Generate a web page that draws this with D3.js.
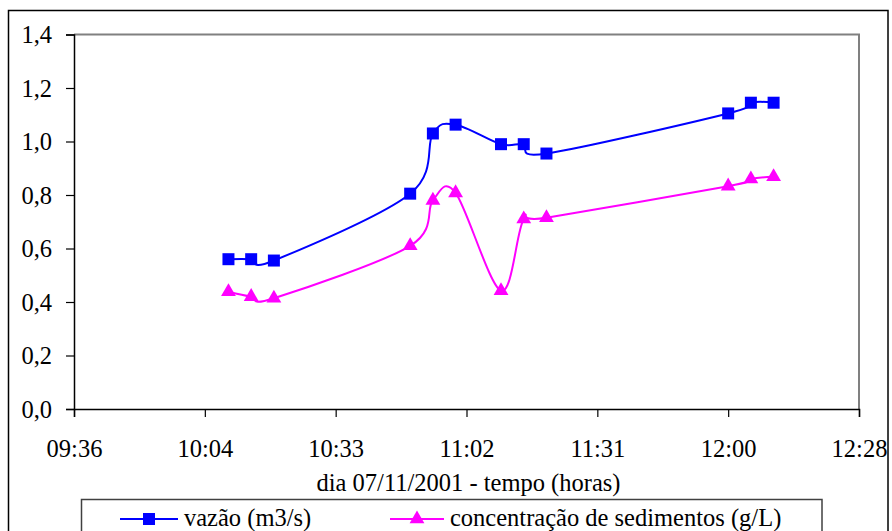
<!DOCTYPE html>
<html>
<head>
<meta charset="utf-8">
<script src="https://cdn.jsdelivr.net/npm/d3@7"></script>
<style>
  html, body { margin: 0; padding: 0; background: #fff; }
  svg { display: block; }
</style>
</head>
<body>
<svg id="chart" width="892" height="531"></svg>
<script>
// Measurement times (hh:mm) on 07/11/2001
const times = ["10:10", "10:15", "10:20", "10:50", "10:55", "11:00",
               "11:10", "11:15", "11:20", "12:00", "12:05", "12:10"];
// Discharge (m3/s)
const vazao = [0.56, 0.56, 0.555, 0.805, 1.03, 1.063, 0.99, 0.99, 0.955, 1.105, 1.145, 1.145];
// Sediment concentration (g/L)
const concentracao = [0.438, 0.42, 0.414, 0.61, 0.78, 0.808, 0.442, 0.71, 0.715, 0.833, 0.86, 0.868];
// Time axis ticks every 0.02 day (28.8 min) starting at 0.40 day
const xTickDayFractions = [0.40, 0.42, 0.44, 0.46, 0.48, 0.50, 0.52];
const xTickLabels = ["09:36", "10:04", "10:33", "11:02", "11:31", "12:00", "12:28"];
const yTicks = [0, 0.2, 0.4, 0.6, 0.8, 1.0, 1.2, 1.4];

const seriesNames = ["vazão (m3/s)", "concentração de sedimentos (g/L)"];

const FONT = '"Liberation Serif", "Times New Roman", serif';
const fontSize = 24.5;

const toMinutes = s => { const [h, m] = s.split(":").map(Number); return h * 60 + m; };
const tickMinutes = xTickDayFractions.map(f => f * 1440);

const svg = d3.select("#chart");
const plotLeft = 74, plotRight = 859, plotTop = 34.5, plotBottom = 409;

const x = d3.scaleLinear().domain([tickMinutes[0], tickMinutes[tickMinutes.length - 1]]).range([plotLeft, plotRight]);
const y = d3.scaleLinear().domain([0, 1.4]).range([plotBottom, plotTop]);

// Outer chart border
svg.append("rect").attr("x", 8.5).attr("y", 10.5).attr("width", 879.5).attr("height", 540)
  .attr("fill", "none").attr("stroke", "#000").attr("stroke-width", 1.5);

// Plot area frame (top and right in gray)
svg.append("path")
  .attr("d", `M${plotLeft},${plotTop}H${plotRight}V${plotBottom}`)
  .attr("fill", "none").attr("stroke", "#808080").attr("stroke-width", 2);

// Y axis
const yAxis = svg.append("g").attr("transform", `translate(${plotLeft},0)`)
  .call(d3.axisLeft(y).tickValues(yTicks).tickSize(8).tickPadding(14)
    .tickFormat(d => d3.format(".1f")(d).replace(".", ",")));
yAxis.select(".domain").attr("stroke", "#000").attr("stroke-width", 1.5);
yAxis.selectAll(".tick line").attr("stroke", "#000").attr("stroke-width", 1.2);
yAxis.selectAll("text").style("font-family", FONT).style("font-size", fontSize + "px")
  .attr("dy", "0.33em");

// X axis
const xAxis = svg.append("g").attr("transform", `translate(0,${plotBottom})`)
  .call(d3.axisBottom(x).tickValues(tickMinutes).tickSize(8).tickPadding(16)
    .tickFormat((d, i) => xTickLabels[i]));
xAxis.select(".domain").attr("stroke", "#000").attr("stroke-width", 1.5);
xAxis.selectAll(".tick line").attr("stroke", "#000").attr("stroke-width", 1.2);
xAxis.selectAll("text").style("font-family", FONT).style("font-size", fontSize + "px")
  .attr("dy", null).attr("y", 48);

// X axis title
svg.append("text").attr("x", (plotLeft + plotRight) / 2 + 2).attr("y", 491)
  .attr("text-anchor", "middle")
  .style("font-family", FONT).style("font-size", fontSize + "px")
  .text("dia 07/11/2001 - tempo (horas)");

const line = d3.line().curve(d3.curveCardinal.tension(0))
  .x(d => x(d.t)).y(d => y(d.v));

const blueData = times.map((t, i) => ({ t: toMinutes(t), v: vazao[i] }));
const pinkData = times.map((t, i) => ({ t: toMinutes(t), v: concentracao[i] }));

const blue = "#0000FF", pink = "#FF00FF";

svg.append("path").datum(blueData).attr("d", line)
  .attr("fill", "none").attr("stroke", blue).attr("stroke-width", 2);
svg.append("path").datum(pinkData).attr("d", line)
  .attr("fill", "none").attr("stroke", pink).attr("stroke-width", 2);

const square = d3.symbol().type(d3.symbolSquare).size(144);
const triangle = d3.symbol().type(d3.symbolTriangle).size(95);

svg.append("g").selectAll("path").data(blueData).join("path")
  .attr("transform", d => `translate(${x(d.t)},${y(d.v)})`)
  .attr("d", square).attr("fill", blue);
svg.append("g").selectAll("path").data(pinkData).join("path")
  .attr("transform", d => `translate(${x(d.t)},${y(d.v)})`)
  .attr("d", triangle).attr("fill", pink);

// Legend
const lg = svg.append("g");
lg.append("rect").attr("x", 81.5).attr("y", 499.5).attr("width", 740.5).attr("height", 60)
  .attr("fill", "#fff").attr("stroke", "#404040").attr("stroke-width", 1.5);
const legendY = 519;
const entries = [
  { x0: 120, x1: 178, tx: 184, color: blue, sym: square, name: seriesNames[0] },
  { x0: 390, x1: 444, tx: 450, color: pink, sym: triangle, name: seriesNames[1] }
];
entries.forEach(e => {
  lg.append("line").attr("x1", e.x0).attr("x2", e.x1).attr("y1", legendY).attr("y2", legendY)
    .attr("stroke", e.color).attr("stroke-width", 2);
  lg.append("path").attr("transform", `translate(${(e.x0 + e.x1) / 2},${legendY})`)
    .attr("d", e.sym).attr("fill", e.color);
  lg.append("text").attr("x", e.tx).attr("y", 526)
    .style("font-family", FONT).style("font-size", fontSize + "px").text(e.name);
});
</script>
</body>
</html>
